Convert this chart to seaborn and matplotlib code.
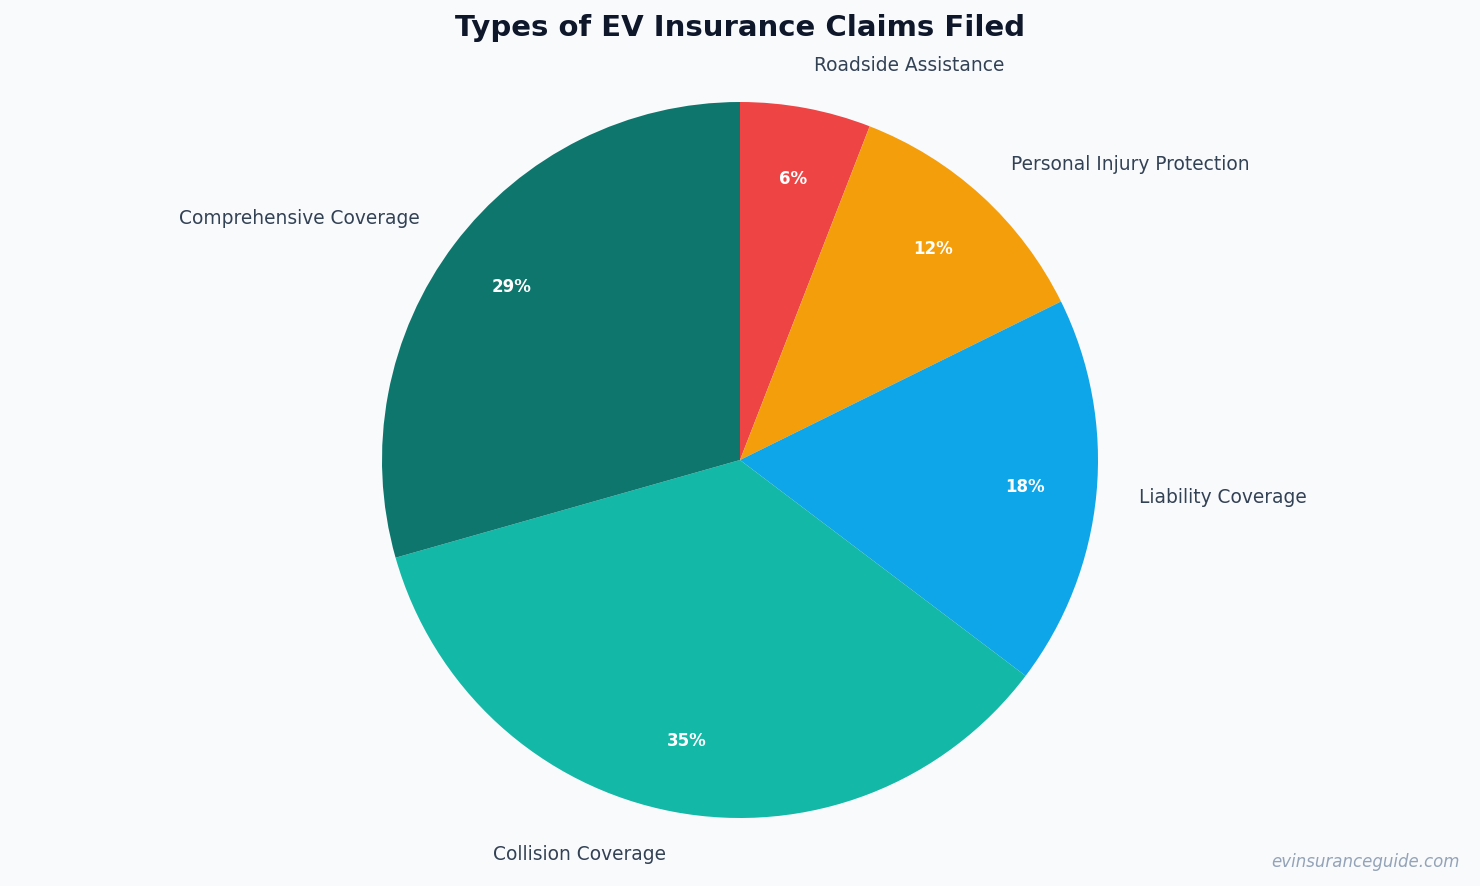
import matplotlib
matplotlib.use("Agg")
import matplotlib.pyplot as plt
import seaborn as sns

# data, clockwise from the top (shares in %)
claim_types = [
    "Roadside Assistance",
    "Personal Injury Protection",
    "Liability Coverage",
    "Collision Coverage",
    "Comprehensive Coverage",
]
shares = [5.9, 11.8, 17.6, 35.3, 29.4]
slice_colors = ["#EF4444", "#F59E0B", "#0EA5E9", "#14B8A6", "#0F766E"]

sns.set_theme(style="white")
plt.rcParams["font.family"] = ["DejaVu Sans"]

bg = "#F8FAFC"
W, H = 1480, 886
fig = plt.figure(figsize=(W / 100, H / 100), dpi=100, facecolor=bg)
ax = fig.add_axes([0, 0, 1, 1])
ax.set_facecolor(bg)

palette = sns.color_palette(slice_colors)

wedges, texts, autotexts = ax.pie(
    shares,
    labels=claim_types,
    colors=palette,
    startangle=90,
    counterclock=False,
    autopct="%1.0f%%",
    pctdistance=0.8,
    labeldistance=1.12,
    wedgeprops={"linewidth": 0},
    textprops={"fontsize": 13.4, "color": "#334155"},
)
for t in autotexts:
    t.set_color("white")
    t.set_fontweight("bold")
    t.set_fontsize(12)

# pie centre at (740, 460) px from top, radius ~358 px
r_px = 358
cx, cy = 740, H - 460
ax.set_aspect("auto")
ax.set_xlim(-cx / r_px, (W - cx) / r_px)
ax.set_ylim(-cy / r_px, (H - cy) / r_px)
ax.axis("off")

fig.text(0.5, 1 - 28 / H, "Types of EV Insurance Claims Filed",
         ha="center", va="center", fontsize=21, fontweight="bold", color="#0F172A")
fig.text(1 - 20 / W, 24 / H, "evinsuranceguide.com",
         ha="right", va="center", fontsize=12, style="italic", color="#94A3B8")

fig.savefig("out.png", dpi=100, facecolor=bg)
